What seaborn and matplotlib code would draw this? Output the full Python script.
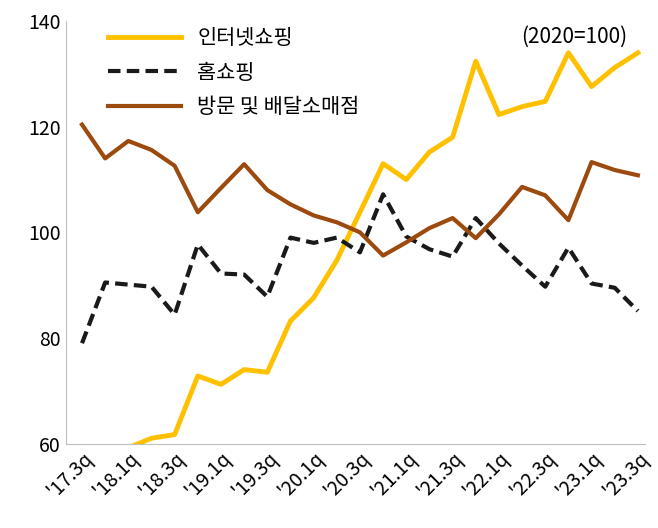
import matplotlib
matplotlib.use("Agg")
import matplotlib.pyplot as plt
import seaborn as sns
import pandas as pd

quarters = [f"'{y}.{q}q" for y in range(17, 24) for q in range(1, 5)][2:27]
internet = [55, 57, 59.2, 61, 61.7, 72.8, 71.2, 74, 73.5, 83.2, 87.6, 94.7, 103.8, 113, 110,
            115.2, 118, 132.4, 122.3, 123.8, 124.8, 134, 127.6, 131.2, 134]
home = [79, 90.5, 90.1, 89.7, 84.4, 97.7, 92.2, 92, 87.8, 99, 98, 99, 96.2, 107.2, 99.2,
        96.8, 95.4, 102.7, 97.9, 93.7, 89.7, 97.1, 90.3, 89.5, 85.1]
offline = [120.4, 114, 117.3, 115.6, 112.6, 103.8, 108.4, 112.9, 108, 105.3, 103.2, 101.9, 100,
           95.6, 98.1, 100.8, 102.7, 98.9, 103.4, 108.6, 107, 102.3, 113.3, 111.8, 110.8]
names = ["인터넷쇼핑", "홈쇼핑", "방문 및 배달소매점"]

plt.rcParams["font.family"] = "Noto Sans CJK KR"
fig, ax = plt.subplots(figsize=(6.58, 5.28), dpi=100)
x = list(range(len(quarters)))
sns.lineplot(x=x, y=internet, ax=ax, color="#FFC000", lw=3.5, label=names[0])
sns.lineplot(x=x, y=home, ax=ax, color="#1a1a1a", lw=3, ls=(0, (3, 1.5)), label=names[1])
sns.lineplot(x=x, y=offline, ax=ax, color="#9C4A0E", lw=3, label=names[2])
ax.set_ylim(60, 140)
ax.set_xlim(-0.7, 24.3)
ax.set_yticks(range(60, 141, 20))
ax.set_xticks(x[::2])
ax.set_xticklabels(quarters[::2], rotation=45, ha="right", rotation_mode="anchor")
ax.tick_params(labelsize=14, length=0)
for s in ["top", "right"]:
    ax.spines[s].set_visible(False)
for s in ["left", "bottom"]:
    ax.spines[s].set_color("#bfbfbf")
ax.text(0.97, 0.99, "(2020=100)", transform=ax.transAxes, ha="right", va="top", fontsize=15)
ax.legend(loc="upper left", bbox_to_anchor=(0.04, 1.03), frameon=False, fontsize=15,
          handlelength=3.5, labelspacing=0.6)
plt.subplots_adjust(left=0.1, right=0.98, top=0.96, bottom=0.16)
fig.savefig("out.png")
